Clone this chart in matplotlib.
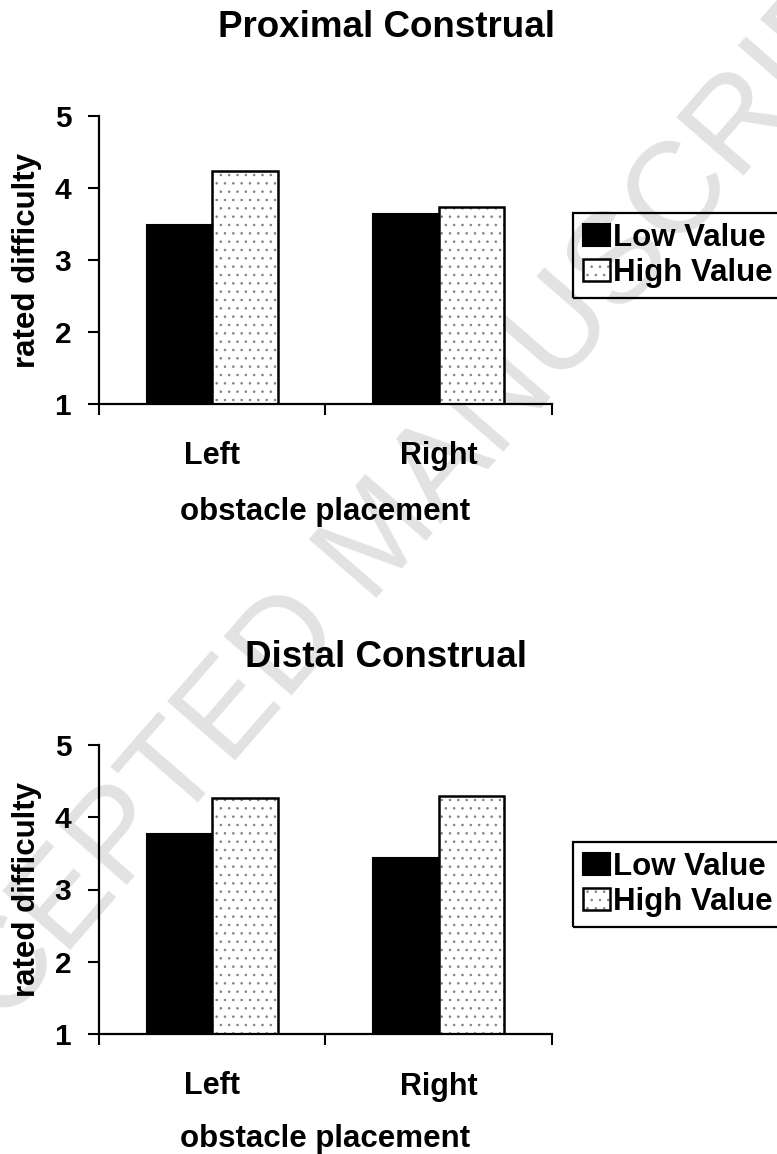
import matplotlib
matplotlib.use('Agg')
from matplotlib import pyplot as plt
from matplotlib.legend_handler import HandlerTuple

plt.rcParams['font.family'] = ['Liberation Sans', 'DejaVu Sans']
plt.rcParams['font.weight'] = 'bold'
plt.rcParams['hatch.color'] = '#808080'
plt.rcParams['hatch.linewidth'] = 0.6

# data
placements = ['Left', 'Right']
series = ['Low Value', 'High Value']
proximal_low = [3.49, 3.64]
proximal_high = [4.24, 3.73]
distal_low = [3.77, 3.44]
distal_high = [4.26, 4.29]
y_ticks = [1, 2, 3, 4, 5]

W, H = 777, 1154
fig = plt.figure(figsize=(W / 100, H / 100), dpi=100)
fig.patch.set_facecolor('white')

# faint watermark behind everything
fig.text(382 / W, 1 - 540 / H, 'ACCEPTED MANUSCRIPT', fontsize=93,
         fontweight='normal', color='#e2e2e2', rotation=49,
         ha='center', va='center', rotation_mode='anchor', zorder=-1)


def draw_panel(top_px, bottom_px, low, high, title, title_base_px, xlab_off):
    ax = fig.add_axes([99 / W, 1 - bottom_px / H, 453 / W, (bottom_px - top_px) / H])
    ax.set_facecolor('none')
    x = [i + 0.5 for i in range(len(placements))]
    bw = 0.29
    xl = [v - bw / 2 for v in x]
    xh = [v + bw / 2 for v in x]
    low_bars = ax.bar(xl, [v - 1 for v in low], bw, bottom=1, color='black',
                      edgecolor='black', linewidth=1.5, label=series[0])
    hatch_bars = ax.bar(xh, [v - 1 for v in high], bw, bottom=1, color='white',
                        edgecolor='#808080', linewidth=0, hatch='..')
    edge_bars = ax.bar(xh, [v - 1 for v in high], bw, bottom=1, fill=False,
                       edgecolor='black', linewidth=1.8)

    ax.set_xlim(0, 2)
    ax.set_ylim(1, 5)
    for s in ['top', 'right']:
        ax.spines[s].set_visible(False)
    for s in ['left', 'bottom']:
        ax.spines[s].set_linewidth(1.6)

    ax.set_yticks(y_ticks)
    ax.set_yticklabels([str(t) for t in y_ticks], fontsize=21.5, fontweight='bold')
    ax.tick_params(axis='y', direction='out', length=8, width=1.5, pad=12)

    ax.set_xticks([0, 1, 2])
    ax.set_xticklabels([])
    ax.set_xticks(x, minor=True)
    ax.set_xticklabels(placements, minor=True, fontsize=22, fontweight='bold')
    ax.tick_params(axis='x', which='major', direction='out', length=8, width=1.5)
    ax.tick_params(axis='x', which='minor', length=0, pad=27)

    ax.set_xlabel('obstacle placement', fontsize=22.5, fontweight='bold')
    ax.xaxis.label.set_va('baseline')
    ax.xaxis.set_label_coords(0.5, -xlab_off / (bottom_px - top_px))
    ax.set_ylabel('rated difficulty', fontsize=22.5, fontweight='bold')
    ax.yaxis.label.set_va('center')
    ax.yaxis.set_label_coords(-72 / 453, 0.5)

    fig.text(386 / W, 1 - title_base_px / H, title, fontsize=26.5,
             fontweight='bold', ha='center', va='baseline')

    leg = ax.legend([low_bars, (hatch_bars, edge_bars)], series,
                    handler_map={tuple: HandlerTuple(ndivide=1, pad=0)},
                    loc='upper left', bbox_to_anchor=(573 / W, 1 - (top_px + 97) / H),
                    bbox_transform=fig.transFigure, borderaxespad=0,
                    fontsize=22.5, handlelength=0.85, handleheight=0.7,
                    handletextpad=0.1, labelspacing=0.15, borderpad=0.32,
                    fancybox=False, framealpha=1, facecolor='none',
                    edgecolor='black')
    leg.get_frame().set_linewidth(1.6)
    return ax


draw_panel(116, 404, proximal_low, proximal_high, 'Proximal Construal', 37, 116)
draw_panel(745, 1034, distal_low, distal_high, 'Distal Construal', 667, 113)

plt.savefig('out.png', dpi=100)
